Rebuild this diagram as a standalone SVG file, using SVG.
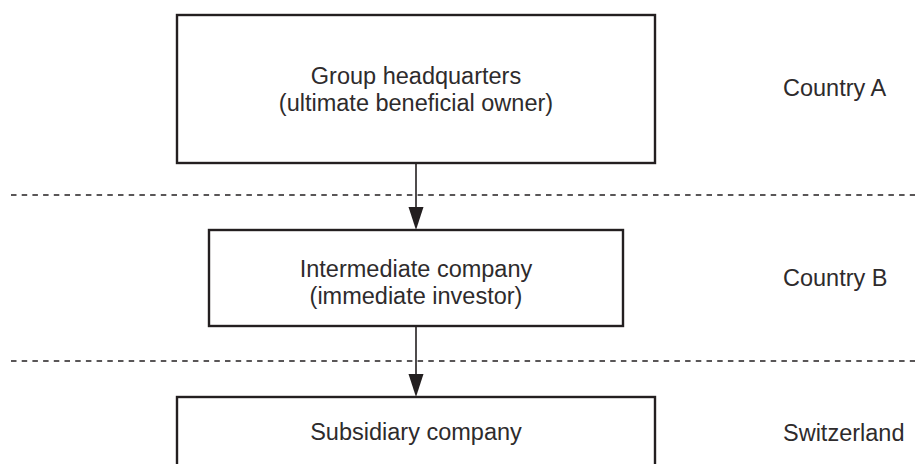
<svg xmlns="http://www.w3.org/2000/svg" width="915" height="464" viewBox="0 0 915 464">
  <defs>
    <style>
      .box { fill: #ffffff; stroke: #231f20; stroke-width: 2.4; }
      .t { font-family: "Liberation Sans", Arial, sans-serif; font-size: 23.5px; fill: #2e2b2c; }
      .c { text-anchor: middle; }
      .dash { stroke: #231f20; stroke-width: 1.3; stroke-dasharray: 5.5 5.2; fill: none; }
      .conn { stroke: #231f20; stroke-width: 1.6; fill: none; }
      .head { fill: #231f20; }
    </style>
  </defs>
  <rect width="915" height="464" fill="#ffffff"/>

  <g id="separators">
    <line class="dash" x1="11" y1="195" x2="915" y2="195"/>
    <line class="dash" x1="11" y1="361" x2="915" y2="361"/>
  </g>

  <g id="connectors">
    <line class="conn" x1="416" y1="163" x2="416" y2="210"/>
    <polygon class="head" points="408.5,207 423.5,207 416,230"/>
    <line class="conn" x1="416" y1="326" x2="416" y2="376"/>
    <polygon class="head" points="408.5,374 423.5,374 416,397"/>
  </g>

  <g id="node-hq">
    <rect class="box" x="177" y="15" width="478" height="148"/>
    <text class="t c" x="416" y="84">Group headquarters</text>
    <text class="t c" x="416" y="111">(ultimate beneficial owner)</text>
  </g>

  <g id="node-intermediate">
    <rect class="box" x="209" y="230" width="414" height="96"/>
    <text class="t c" x="416" y="277">Intermediate company</text>
    <text class="t c" x="416" y="304">(immediate investor)</text>
  </g>

  <g id="node-subsidiary">
    <rect class="box" x="177" y="397" width="478" height="90"/>
    <text class="t c" x="416" y="440">Subsidiary company</text>
  </g>

  <g id="labels">
    <text class="t" x="783" y="96">Country A</text>
    <text class="t" x="783" y="286">Country B</text>
    <text class="t" x="783" y="441">Switzerland</text>
  </g>
</svg>
